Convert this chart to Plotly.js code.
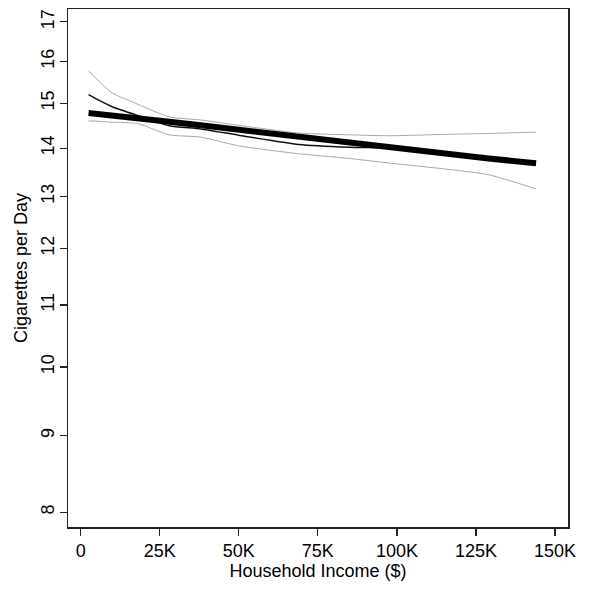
<!DOCTYPE html>
<html>
<head>
<meta charset="utf-8">
<script src="https://cdn.plot.ly/plotly-3.0.1.min.js"></script>
<style>
  html, body { margin: 0; padding: 0; background: #fff; }
  #plot { width: 602px; height: 595px; }
</style>
</head>
<body>
<div id="plot"></div>
<script>
// household income (dollars)
var income = [2500, 6000, 10000, 18000, 28000, 38000, 50000, 69000, 85000, 98000, 115000, 129000, 144000];

// fitted trend (thick line)
var trend = [14.78, 14.75, 14.7, 14.64, 14.58, 14.5, 14.4, 14.25, 14.12, 14.0, 13.88, 13.78, 13.68];
// smoothed estimate (thin black)
var smooth = [15.2, 15.06, 14.92, 14.72, 14.49, 14.42, 14.28, 14.08, 14.02, 14.0, 13.88, 13.78, 13.68];
// confidence band
var upper = [15.77, 15.5, 15.24, 14.98, 14.69, 14.62, 14.5, 14.33, 14.29, 14.27, 14.3, 14.32, 14.35];
var lower = [14.6, 14.59, 14.57, 14.54, 14.29, 14.24, 14.05, 13.88, 13.78, 13.68, 13.56, 13.44, 13.15];

var yTicks = [8, 9, 10, 11, 12, 13, 14, 15, 16, 17];
var xTicks = [0, 25000, 50000, 75000, 100000, 125000, 150000];
var xLabels = ['0', '25K', '50K', '75K', '100K', '125K', '150K'];

var data = [
  {x: income, y: upper, mode: 'lines', line: {color: '#a8a8a8', width: 1, shape: 'spline', smoothing: 0.6}, hoverinfo: 'skip'},
  {x: income, y: lower, mode: 'lines', line: {color: '#a8a8a8', width: 1, shape: 'spline', smoothing: 0.6}, hoverinfo: 'skip'},
  {x: income, y: smooth, mode: 'lines', line: {color: '#111', width: 1.5, shape: 'spline', smoothing: 0.6}},
  {x: income, y: trend, mode: 'lines', line: {color: '#000', width: 6}}
];

var font = {family: 'Liberation Sans, Arial, sans-serif', size: 18, color: '#000'};

var layout = {
  width: 602,
  height: 595,
  margin: {l: 68, r: 34, t: 9, b: 68},
  showlegend: false,
  paper_bgcolor: '#fff',
  plot_bgcolor: '#fff',
  font: font,
  xaxis: {
    range: [-4000, 154100],
    tickvals: xTicks,
    ticktext: xLabels,
    ticks: 'outside',
    ticklen: 7,
    tickwidth: 1.2,
    tickcolor: '#222',
    showgrid: false,
    zeroline: false,
    showline: true,
    mirror: true,
    linecolor: '#222',
    linewidth: 1.5,
    title: {text: 'Household Income ($)', font: font, standoff: 4}
  },
  yaxis: {
    type: 'log',
    range: [Math.log10(7.82), Math.log10(17.34)],
    tickvals: yTicks,
    ticktext: yTicks.map(String),
    tickangle: -90,
    ticklabelstandoff: -2,
    ticks: 'outside',
    ticklen: 7,
    tickwidth: 1.2,
    tickcolor: '#222',
    showgrid: false,
    zeroline: false,
    showline: true,
    mirror: true,
    linecolor: '#222',
    linewidth: 1.5,
    title: {text: 'Cigarettes per Day', font: font, standoff: 6}
  }
};

Plotly.newPlot('plot', data, layout, {staticPlot: true});
</script>
</body>
</html>
